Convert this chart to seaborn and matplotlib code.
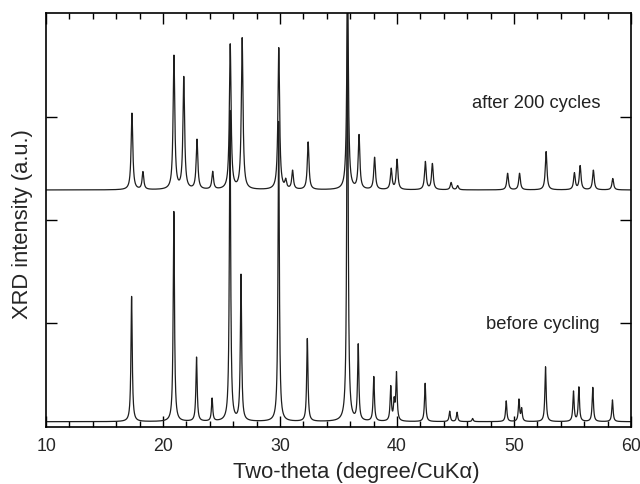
import numpy as np
import pandas as pd
import matplotlib
matplotlib.use('Agg')
import matplotlib.pyplot as plt
from matplotlib.ticker import MultipleLocator
import seaborn as sns

# peak positions (2-theta, deg) and heights above baseline
before_pos = [17.31, 20.92, 22.86, 24.19, 25.72, 26.66, 29.88, 32.33, 35.76, 36.68,
              38.01, 39.46, 39.75, 39.95, 42.40, 44.50, 45.13, 46.46, 49.33, 50.42,
              50.65, 52.69, 55.08, 55.54, 56.73, 58.41]
before_height = [1.21, 2.03, 0.62, 0.22, 3.0, 1.41, 2.9, 0.80, 4.3, 0.73,
                 0.43, 0.33, 0.18, 0.46, 0.37, 0.10, 0.09, 0.03, 0.20, 0.21,
                 0.12, 0.53, 0.29, 0.33, 0.33, 0.21]
before_base = 0.05

after_pos = [17.34, 18.28, 20.93, 21.77, 22.90, 24.24, 25.74, 26.76, 29.89, 30.48,
             31.07, 32.40, 35.77, 36.75, 38.08, 39.50, 40.00, 42.42, 43.02, 44.62,
             45.18, 49.45, 50.47, 52.74, 55.16, 55.65, 56.78, 58.44]
after_height = [0.74, 0.17, 1.29, 1.08, 0.48, 0.17, 1.40, 1.46, 1.37, 0.08,
                0.18, 0.46, 1.9, 0.52, 0.31, 0.20, 0.29, 0.27, 0.25, 0.07,
                0.04, 0.16, 0.16, 0.37, 0.16, 0.23, 0.19, 0.11]
after_base = 2.29

labels = ['after 200 cycles', 'before cycling']

two_theta = np.arange(10, 60.001, 0.01)


def pattern(pos, height, base, hwhm):
    y = np.full_like(two_theta, base)
    for p, h in zip(pos, height):
        y += h * hwhm**2 / ((two_theta - p)**2 + hwhm**2)
    return y


df_before = pd.DataFrame({'two_theta': two_theta,
                          'intensity': pattern(before_pos, before_height, before_base, 0.065)})
df_after = pd.DataFrame({'two_theta': two_theta,
                         'intensity': pattern(after_pos, after_height, after_base, 0.085)})

sns.set_theme(style='ticks')
plt.rcParams['font.family'] = ['Liberation Sans', 'DejaVu Sans']

fig = plt.figure(figsize=(6.4, 4.84), dpi=100)
ax = fig.add_axes([0.072, 0.118, 0.914, 0.855])

sns.lineplot(data=df_before, x='two_theta', y='intensity', ax=ax, color='#1e1e1e', lw=0.9)
sns.lineplot(data=df_after, x='two_theta', y='intensity', ax=ax, color='#1e1e1e', lw=0.9)

ax.set_xlim(10, 60)
ax.set_ylim(0, 4)
ax.xaxis.set_major_locator(MultipleLocator(10))
ax.xaxis.set_minor_locator(MultipleLocator(2))
ax.set_yticks([1, 2, 3])
ax.set_yticklabels([])
ax.tick_params(which='both', direction='in', top=True, right=True, color='black', width=1.0)
ax.tick_params(which='major', length=8, labelsize=12.8, pad=8)
ax.tick_params(which='minor', length=4)
for s in ax.spines.values():
    s.set_linewidth(1.2)
    s.set_color('black')

ax.set_xlabel('Two-theta (degree/CuKα)', fontsize=15.8)
ax.set_ylabel('XRD intensity (a.u.)', fontsize=15.8)
ax.xaxis.set_label_coords(0.53, -0.085)
ax.yaxis.set_label_coords(-0.022, 0.49)

ax.text(46.4, 3.13, labels[0], fontsize=13.2, va='center', ha='left', color='#222222')
ax.text(47.6, 0.99, labels[1], fontsize=13.2, va='center', ha='left', color='#222222')

fig.savefig('out.png', dpi=100)
